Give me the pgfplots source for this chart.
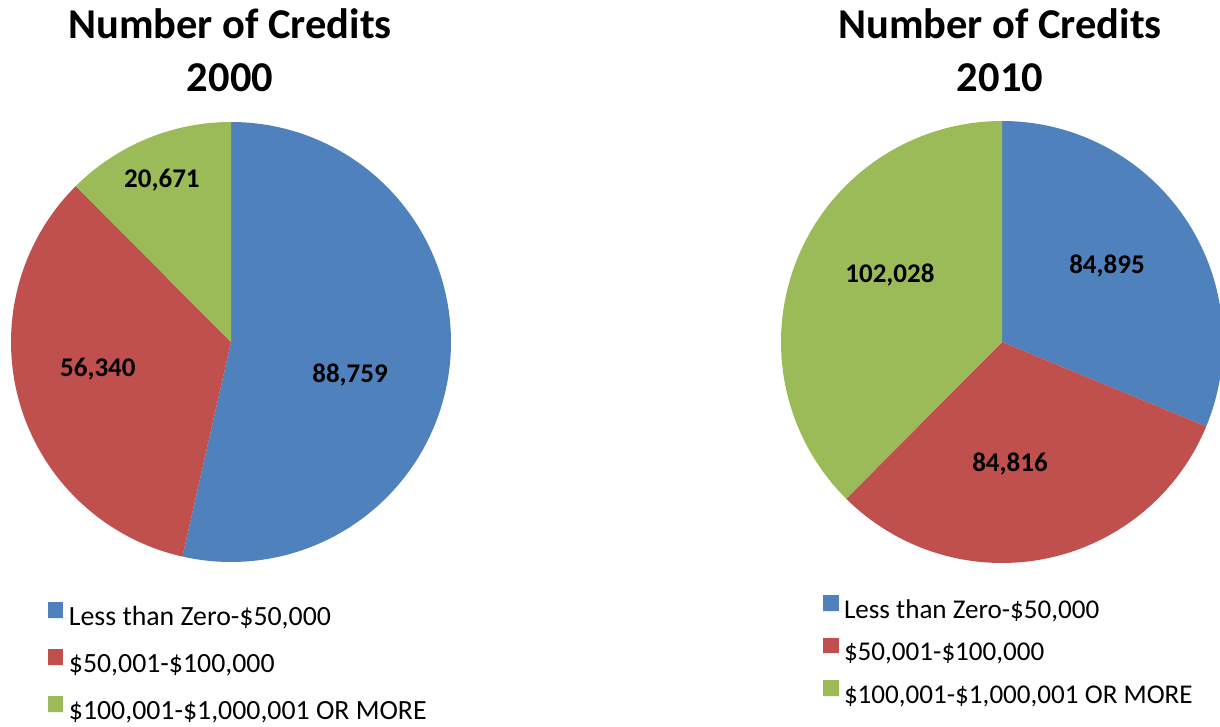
\documentclass[border=0pt]{standalone}
\usepackage{pgfplots}
\pgfplotsset{compat=1.18}
\usepackage{pgfplotstable}
\usepackage{fontspec}
\setmainfont{Carlito}
\definecolor{cblue}{HTML}{4F81BD}
\definecolor{cred}{HTML}{C0504D}
\definecolor{cgreen}{HTML}{9BBB59}

\pgfplotstableread{
label value
low 88759
mid 56340
high 20671
}\pieA
\pgfplotstableread{
label value
low 84895
mid 84816
high 102028
}\pieB

\pgfplotstablegetelem{0}{value}\of\pieA \let\Aa\pgfplotsretval
\pgfplotstablegetelem{1}{value}\of\pieA \let\Ab\pgfplotsretval
\pgfplotstablegetelem{2}{value}\of\pieA \let\Ac\pgfplotsretval
\pgfplotstablegetelem{0}{value}\of\pieB \let\Ba\pgfplotsretval
\pgfplotstablegetelem{1}{value}\of\pieB \let\Bb\pgfplotsretval
\pgfplotstablegetelem{2}{value}\of\pieB \let\Bc\pgfplotsretval

\edef\Atot{\fpeval{\Aa+\Ab+\Ac}}
\edef\AangA{\fpeval{round(90-360*\Aa/\Atot,4)}}
\edef\AangB{\fpeval{round(\AangA-360*\Ab/\Atot,4)}}
\edef\Btot{\fpeval{\Ba+\Bb+\Bc}}
\edef\BangA{\fpeval{round(90-360*\Ba/\Btot,4)}}
\edef\BangB{\fpeval{round(\BangA-360*\Bb/\Btot,4)}}

\newcommand\titlefont{\fontsize{42.5}{53}\selectfont\bfseries}
\newcommand\labfont{\fontsize{27}{27}\selectfont\bfseries}
\newcommand\num[1]{\pgfmathprintnumber[assume math mode=true,1000 sep={,},fixed,precision=0]{#1}}

\pgfplotsset{
  piestyle/.style={
    scale only axis, hide axis, clip=false,
    xmin=-1, xmax=1, ymin=-1, ymax=1,
    xtick=\empty, ytick=\empty,
    anchor=center,
    legend cell align=left,
    legend image code/.code={\fill[##1] (0pt,0.5pt) rectangle (15.5pt,16pt); \path (0pt,0pt) -- (21pt,0pt);},
    legend style={anchor=north west, draw=none, fill=none, inner sep=0pt, outer sep=0pt,
      nodes={inner sep=0pt, text height=20pt, text depth=6pt}},
  },
}

\begin{document}
\begin{tikzpicture}[x=1pt,y=1pt]
\useasboundingbox (0,0) rectangle (1220,726);

\node[anchor=base, font=\titlefont] at (230,687) {Number of Credits};
\node[anchor=base, font=\titlefont] at (230,634) {2000};
\node[anchor=base, font=\titlefont] at (1000,687) {Number of Credits};
\node[anchor=base, font=\titlefont] at (1000,634) {2010};

\begin{axis}[piestyle, width=440pt, height=440pt, at={(231pt,384pt)},
  legend style={at={(axis cs:-0.832,-1.183)}, row sep=18pt, font=\fontsize{27.8}{28}\selectfont}]
\addplot[fill=cblue, draw=none, domain=\AangA:90, samples=150] ({cos(x)},{sin(x)}) -- (axis cs:0,0) -- cycle;
\addlegendentry{Less than Zero-\$50,000}
\addplot[fill=cred, draw=none, domain=\AangB:\AangA, samples=120] ({cos(x)},{sin(x)}) -- (axis cs:0,0) -- cycle;
\addlegendentry{\$50,001-\$100,000}
\addplot[fill=cgreen, draw=none, domain=-270:\AangB, samples=60] ({cos(x)},{sin(x)}) -- (axis cs:0,0) -- cycle;
\addlegendentry{\$100,001-\$1,000,001 OR MORE}
\node[anchor=base, font=\labfont] at (axis cs:0.541,-0.182) {\num{\Aa}};
\node[anchor=base, font=\labfont] at (axis cs:-0.605,-0.159) {\num{\Ab}};
\node[anchor=base, font=\labfont] at (axis cs:-0.314,0.70) {\num{\Ac}};
\end{axis}

\begin{axis}[piestyle, width=442pt, height=442pt, at={(1002pt,384pt)},
  legend style={at={(axis cs:-0.81,-1.145)}, row sep=13.5pt, font=\fontsize{27.1}{28}\selectfont}]
\addplot[fill=cblue, draw=none, domain=\BangA:90, samples=120] ({cos(x)},{sin(x)}) -- (axis cs:0,0) -- cycle;
\addlegendentry{Less than Zero-\$50,000}
\addplot[fill=cred, draw=none, domain=\BangB:\BangA, samples=120] ({cos(x)},{sin(x)}) -- (axis cs:0,0) -- cycle;
\addlegendentry{\$50,001-\$100,000}
\addplot[fill=cgreen, draw=none, domain=-270:\BangB, samples=140] ({cos(x)},{sin(x)}) -- (axis cs:0,0) -- cycle;
\addlegendentry{\$100,001-\$1,000,001 OR MORE}
\node[anchor=base, font=\labfont] at (axis cs:0.475,0.312) {\num{\Ba}};
\node[anchor=base, font=\labfont] at (axis cs:-0.507,0.267) {\num{\Bc}};
\node[anchor=base, font=\labfont] at (axis cs:0.036,-0.584) {\num{\Bb}};
\end{axis}
\end{tikzpicture}
\end{document}
